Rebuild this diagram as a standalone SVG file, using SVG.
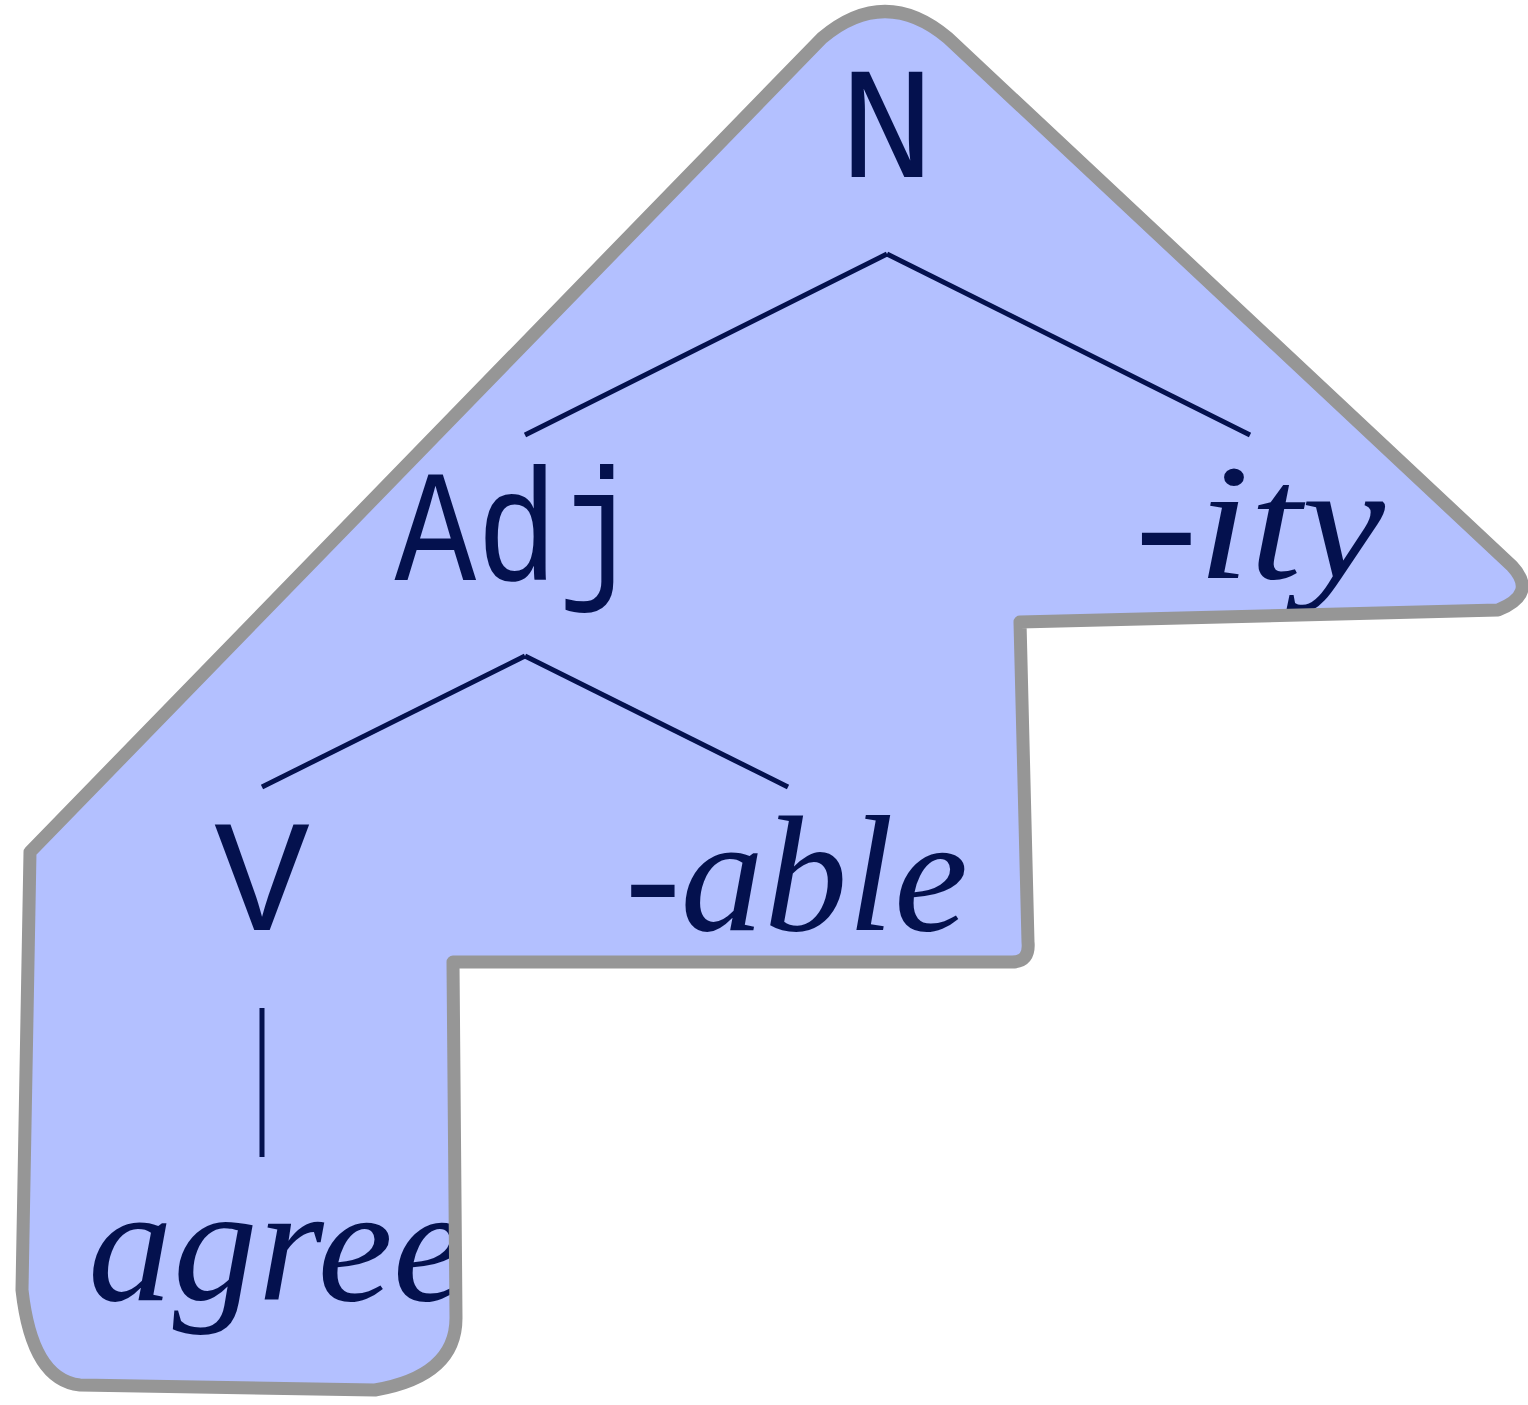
<svg xmlns="http://www.w3.org/2000/svg" width="1528" height="1405" viewBox="0 0 1528 1405">
<style>
.tt{font-family:"Liberation Mono","DejaVu Sans Mono",monospace;fill:#04114e;text-anchor:middle}
.it{font-family:"Liberation Serif","DejaVu Serif",serif;font-style:italic;fill:#04114e}
.edge{stroke:#04114e;stroke-width:5;fill:none}
</style>
<defs>
<path id="shape" d="M 30,852 L 822,38 Q 885,-15 948,38 L 1512,566 Q 1538,594 1498,610 L 1020,622 L 1028,942 Q 1030,962 1012,962 L 453,962 L 456,1318 Q 456,1376 375,1390 L 80,1385 Q 32,1380 22,1290 L 30,852 Z"/>
<clipPath id="clip"><use href="#shape"/></clipPath>
</defs>
<use href="#shape" fill="#b3c0ff"/>
<g clip-path="url(#clip)">
<g id="node-N"><text class="tt" x="887" y="177" font-size="160">N</text></g>
<g id="node-Adj"><text class="tt" x="517" y="580" font-size="160" textLength="245" lengthAdjust="spacingAndGlyphs">Adj</text></g>
<g id="node-ity"><text class="it" x="1135" y="578" font-size="165" textLength="250" lengthAdjust="spacingAndGlyphs">-ity</text></g>
<g id="node-V"><text class="tt" x="262" y="930" font-size="160">V</text></g>
<g id="node-able"><text class="it" x="625" y="930" font-size="165" textLength="343" lengthAdjust="spacingAndGlyphs">-able</text></g>
<g id="node-agree"><text class="it" x="88" y="1300" font-size="165" textLength="380" lengthAdjust="spacingAndGlyphs">agree</text></g>
</g>
<g id="connectors">
<line class="edge" x1="887" y1="254" x2="525" y2="435"/>
<line class="edge" x1="887" y1="254" x2="1250" y2="435"/>
<line class="edge" x1="525" y1="656" x2="262" y2="787"/>
<line class="edge" x1="525" y1="656" x2="788" y2="787"/>
<line class="edge" x1="262" y1="1008" x2="262" y2="1157"/>
</g>
<use href="#shape" fill="none" stroke="#969696" stroke-width="13" stroke-linejoin="round"/>
</svg>
